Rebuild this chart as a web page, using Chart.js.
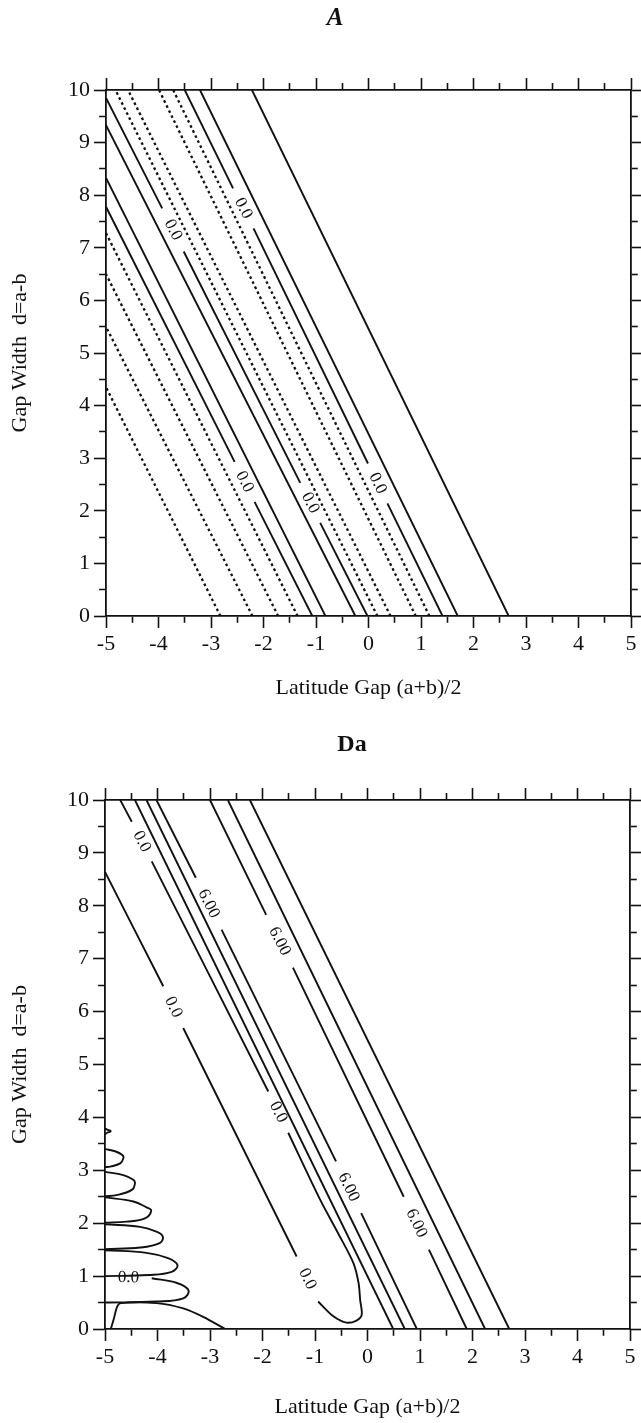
<!DOCTYPE html>
<html>
<head>
<meta charset="utf-8">
<script src="https://cdn.jsdelivr.net/npm/chart.js@4.4.0/dist/chart.umd.min.js"></script>
<style>
  html, body { margin: 0; padding: 0; background: #fff; }
  canvas { display: block; position: absolute; left: 0; }
  #panelA { top: 0; }
  #panelB { top: 712px; }
</style>
</head>
<body>
<canvas id="panelA" width="641" height="712"></canvas>
<canvas id="panelB" width="641" height="711"></canvas>
<script>
// ============================
// Axis ranges and titles
// ============================
const xLimits = [-5, 5];
const yLimits = [0, 10];
const tickStep = 0.5;            // minor ticks every half unit, labels on integers
const xTitle = "Latitude Gap (a+b)/2";
const yTitle = "Gap Width  d=a-b";

// ============================
// Panel A contours
// each contour is a list of runs [[x, d], ...]; a label sits in every break
// ============================
const a1 = [[[2.67, 0], [-2.22, 10]]];
const a2 = [[[1.70, 0], [-3.21, 10]]];
const a3 = [[[1.41, 0], [0.36, 2.14]], [[-0.01, 2.90], [-2.19, 7.37]], [[-2.58, 8.13], [-3.50, 10]]];
const a4 = [[[1.16, 0], [-3.72, 10]]];
const a5 = [[[0.90, 0], [-3.99, 10]]];
const a6 = [[[0.42, 0], [-4.58, 10]]];
const a7 = [[[0.17, 0], [-4.82, 10]]];
const a8 = [[[-0.02, 0], [-0.92, 1.77]], [[-1.30, 2.53], [-3.52, 6.93]], [[-3.93, 7.75], [-5, 9.85]]];
const a9 = [[[-0.25, 0], [-5, 9.33]]];
const a10 = [[[-0.82, 0], [-5, 8.33]]];
const a11 = [[[-1.07, 0], [-2.17, 2.17]], [[-2.55, 2.93], [-5, 7.78]]];
const a12 = [[[-1.35, 0], [-5, 7.28]]];
const a13 = [[[-1.72, 0], [-5, 6.50]]];
const a14 = [[[-2.21, 0], [-5, 5.50]]];
const a15 = [[[-2.82, 0], [-5, 4.35]]];

// ============================
// Panel Da contours
// ============================
const bZeroU = [
  [[-4.71, 10], [-4.49, 9.59]],
  [[-4.11, 8.84], [-1.89, 4.49]],
  [[-1.51, 3.71], [-0.90, 2.44], [-0.56, 1.81], [-0.27, 1.25], [-0.17, 0.87], [-0.14, 0.55],
   [-0.11, 0.27], [-0.21, 0.16], [-0.40, 0.12], [-0.65, 0.24], [-0.94, 0.52]],
  [[-1.35, 1.37], [-3.51, 5.69]],
  [[-3.89, 6.48], [-5, 8.64]]
];
const bMid1 = [[[0.49, 0], [-4.43, 10]]];
const bMid2 = [[[0.71, 0], [-4.21, 10]]];
const bMid3 = [[[0.94, 0], [-0.12, 2.19]], [[-0.60, 3.17], [-2.78, 7.55]], [[-3.27, 8.53], [-4.02, 10]]];
const bRight1 = [[[1.89, 0], [1.17, 1.50]], [[0.69, 2.50], [-1.42, 6.83]], [[-1.93, 7.83], [-3.00, 10]]];
const bRight2 = [[[2.24, 0], [-2.66, 10]]];
const bRight3 = [[[2.70, 0], [-2.24, 10]]];

// small lobes hugging the left edge
const bLobe0 = [[[-5, 3.79], [-4.96, 3.77], [-4.89, 3.74], [-4.96, 3.71], [-5, 3.68]]];
const bLobe1 = [[[-5, 3.40], [-4.81, 3.36], [-4.67, 3.29], [-4.65, 3.23], [-4.71, 3.13], [-4.90, 3.07], [-5, 3.06]]];
const bLobe2 = [[[-5, 2.97], [-4.65, 2.91], [-4.46, 2.82], [-4.43, 2.75], [-4.49, 2.63], [-4.78, 2.53], [-5, 2.51]]];
const bLobe3 = [[[-5, 2.49], [-4.46, 2.41], [-4.21, 2.30], [-4.12, 2.24], [-4.24, 2.09], [-4.59, 2.03], [-5, 2.01]]];
const bLobe4 = [[[-5, 1.98], [-4.33, 1.93], [-4.02, 1.84], [-3.90, 1.75], [-3.95, 1.63], [-4.33, 1.54], [-5, 1.51]]];
const bLobe5 = [[[-5, 1.49], [-4.21, 1.44], [-3.80, 1.34], [-3.62, 1.21], [-3.73, 1.08], [-4.17, 1.02], [-5, 1.00]]];
const bLobe6 = [[[-5, 0.98]], [[-4.11, 0.96], [-3.63, 0.87], [-3.41, 0.73], [-3.51, 0.58], [-4.02, 0.52], [-5, 0.50]]];
const bBase = [[[-4.89, 0], [-4.83, 0.20], [-4.77, 0.42], [-4.70, 0.49], [-4.02, 0.49], [-3.51, 0.39], [-3.13, 0.23], [-2.71, 0]]];

const serif = "'Liberation Serif', 'Times New Roman', serif";
const ink = "#111111";

const contoursA = [
  { runs: a1 }, { runs: a2 }, { runs: a3, level: "0.0" },
  { runs: a4, dotted: true }, { runs: a5, dotted: true }, { runs: a6, dotted: true }, { runs: a7, dotted: true },
  { runs: a8, level: "0.0" }, { runs: a9 }, { runs: a10 }, { runs: a11, level: "0.0" },
  { runs: a12, dotted: true }, { runs: a13, dotted: true }, { runs: a14, dotted: true }, { runs: a15, dotted: true }
];

const contoursB = [
  { runs: bZeroU, level: "0.0", smooth: 0.3 },
  { runs: bMid1 }, { runs: bMid2 }, { runs: bMid3, level: "6.00" },
  { runs: bRight1, level: "6.00" }, { runs: bRight2 }, { runs: bRight3 },
  { runs: bLobe0, smooth: 0.4 }, { runs: bLobe1, smooth: 0.4 }, { runs: bLobe2, smooth: 0.4 },
  { runs: bLobe3, smooth: 0.4 }, { runs: bLobe4, smooth: 0.4 }, { runs: bLobe5, smooth: 0.4 },
  { runs: bLobe6, level: "0.0", smooth: 0.4 }, { runs: bBase, smooth: 0.3 }
];

// one line dataset per unbroken run
function contourDatasets(contours) {
  const sets = [];
  contours.forEach(c => {
    c.runs.forEach(run => {
      sets.push({
        data: run.map(p => ({ x: p[0], y: p[1] })),
        borderColor: ink,
        borderWidth: c.dotted ? 2.3 : 1.9,
        borderDash: c.dotted ? [2.6, 3] : [],
        tension: c.smooth || 0,
        pointRadius: 0,
        fill: false
      });
    });
  });
  return sets;
}

// contour level written into each break of the line, turned along it
function contourLabels(contours) {
  return {
    id: "contourLabels",
    afterDatasetsDraw(chart) {
      const { ctx } = chart;
      const xs = chart.scales.x, ys = chart.scales.y;
      ctx.save();
      ctx.font = "17px " + serif;
      ctx.fillStyle = ink;
      ctx.textAlign = "center";
      ctx.textBaseline = "middle";
      contours.forEach(c => {
        if (!c.level) return;
        for (let i = 0; i + 1 < c.runs.length; i++) {
          const a = c.runs[i][c.runs[i].length - 1];
          const b = c.runs[i + 1][0];
          const ax = xs.getPixelForValue(a[0]), ay = ys.getPixelForValue(a[1]);
          const bx = xs.getPixelForValue(b[0]), by = ys.getPixelForValue(b[1]);
          let ang = Math.atan2(by - ay, bx - ax);
          if (ang > Math.PI / 2) ang -= Math.PI;
          if (ang < -Math.PI / 2) ang += Math.PI;
          ctx.save();
          ctx.translate((ax + bx) / 2, (ay + by) / 2);
          ctx.rotate(ang);
          ctx.fillText(c.level, 0, 0);
          ctx.restore();
        }
      });
      ctx.restore();
    }
  };
}

function panelTitle(text, cx, cy, font) {
  return {
    id: "panelTitle",
    afterDraw(chart) {
      const ctx = chart.ctx;
      ctx.save();
      ctx.font = font;
      ctx.fillStyle = ink;
      ctx.textAlign = "center";
      ctx.textBaseline = "middle";
      ctx.fillText(text, cx, cy);
      ctx.restore();
    }
  };
}

// minor ticks are half length; on top/left the tick starts at the outer end
const majorTick = 12, minorTick = 6;
function tickDash(outerFirst) {
  return ctx => {
    if (!ctx.tick || Number.isInteger(ctx.tick.value)) return [];
    return outerFirst ? [0, majorTick - minorTick - 0.9, minorTick, 40] : [minorTick, 40];
  };
}

function axisGrid(outerFirst) {
  return {
    drawOnChartArea: false,
    drawTicks: true,
    tickLength: majorTick,
    tickColor: ink,
    tickWidth: 1.6,
    tickBorderDash: tickDash(outerFirst)
  };
}

const tickFont = { family: serif, size: 22 };
const titleFont = { family: serif, size: 22 };
const border = { display: true, color: ink, width: 1.8 };
const intLabel = v => (Number.isInteger(v) ? String(v) : "");

function buildPanel(canvasId, contours, band, title) {
  const canvas = document.getElementById(canvasId);
  if (!canvas) return null;

  return new Chart(canvas.getContext("2d"), {
    type: "line",
    data: { datasets: contourDatasets(contours) },
    options: {
      responsive: false,
      animation: false,
      events: [],
      layout: { padding: 0 },
      plugins: {
        legend: { display: false },
        tooltip: { enabled: false },
        title: { display: false }
      },
      scales: {
        x: {
          type: "linear", position: "bottom", min: xLimits[0], max: xLimits[1],
          afterFit: s => { s.height = band.bottom; },
          ticks: { stepSize: tickStep, autoSkip: false, maxRotation: 0, padding: 3,
                   color: ink, font: tickFont, callback: intLabel },
          grid: axisGrid(false),
          border,
          title: { display: true, text: xTitle, color: ink, font: titleFont,
                   padding: { top: 0, bottom: band.xTitlePad } }
        },
        x2: {
          type: "linear", position: "top", min: xLimits[0], max: xLimits[1],
          afterFit: s => { s.height = band.top; },
          ticks: { display: false, stepSize: tickStep, autoSkip: false },
          grid: axisGrid(true),
          border
        },
        y: {
          type: "linear", position: "left", min: yLimits[0], max: yLimits[1],
          afterFit: s => { s.width = band.left; },
          ticks: { stepSize: tickStep, autoSkip: false, padding: 4,
                   color: ink, font: tickFont, callback: intLabel },
          grid: axisGrid(true),
          border,
          title: { display: true, text: yTitle, color: ink, font: titleFont,
                   padding: { top: 7, bottom: 0 } }
        },
        y2: {
          type: "linear", position: "right", min: yLimits[0], max: yLimits[1],
          afterFit: s => { s.width = band.right; },
          ticks: { display: false, stepSize: tickStep, autoSkip: false },
          grid: axisGrid(false),
          border
        }
      }
    },
    plugins: [contourLabels(contours), panelTitle(title.text, title.x, title.y, title.font)]
  });
}

buildPanel("panelA", contoursA,
  { left: 106, right: 10, top: 90, bottom: 96, xTitlePad: 11 },
  { text: "A", x: 335, y: 19, font: "italic bold 25px " + serif });

buildPanel("panelB", contoursB,
  { left: 105, right: 11, top: 88, bottom: 94, xTitlePad: 3 },
  { text: "Da", x: 352, y: 33, font: "bold 24px " + serif });
</script>
</body>
</html>
